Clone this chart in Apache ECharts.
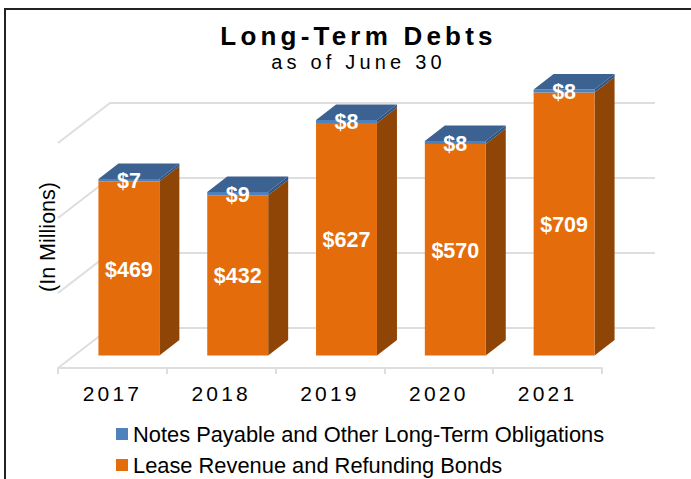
<!doctype html>
<html>
<head>
<meta charset="UTF-8">
<title>Long-Term Debts</title>
<style>
    html, body { margin: 0; padding: 0; background: #fff; }
    #main { width: 691px; height: 479px; }
    /* zrender has no letter spacing option, so the svg text gets it from here */
    #main text[style*="Arimo"] { letter-spacing: 4.2px; }
    #main text[style*="Arimo"][style*="21px"] { letter-spacing: 3.2px; }
</style>
<script src="https://cdn.jsdelivr.net/npm/echarts@6/dist/echarts.min.js"></script>
</head>
<body>
<div id="main"></div>
<script>
var years = ['2017', '2018', '2019', '2020', '2021'];
var bonds = [469, 432, 627, 570, 709];
var notes = [7, 9, 8, 8, 8];
var wallTicks = [0, 200, 400, 600];
var bondsName = 'Lease Revenue and Refunding Bonds';
var notesName = 'Notes Payable and Other Long-Term Obligations';

var plainFont = '"Liberation Sans", Arial, sans-serif';
var spacedFont = 'Arimo, "Liberation Sans", Arial, sans-serif';

var myChart = echarts.init(document.getElementById('main'), null, { renderer: 'svg' });

// back wall lines: diagonal from the front edge, then straight across
function renderWall(params, api) {
    var cs = params.coordSys;
    var y = api.coord([0, api.value(0)])[1];
    return {
        type: 'polyline',
        silent: true,
        shape: { points: [[cs.x, y], [cs.x + 52, y - 40], [cs.x + cs.width + 53, y - 40]] },
        style: { stroke: '#dedede', lineWidth: 2, fill: null }
    };
}

function renderBar(colors, withTop) {
    return function (params, api) {
        var cat = api.value(0);
        var low = api.coord([cat, api.value(1)]);
        var high = api.coord([cat, api.value(2)]);
        var w = api.size([1, 0])[0] * 0.56;
        var x = low[0] - w / 2;
        var dx = 20, dy = 15.5;
        var children = [
            {
                type: 'polygon',
                shape: { points: [[x + w, low[1]], [x + w + dx, low[1] - dy], [x + w + dx, high[1] - dy], [x + w, high[1]]] },
                style: { fill: colors.side }
            },
            {
                type: 'rect',
                shape: { x: x, y: high[1], width: w, height: low[1] - high[1] },
                style: { fill: colors.front }
            }
        ];
        if (withTop) {
            children.push({
                type: 'polygon',
                shape: { points: [[x, high[1]], [x + w, high[1]], [x + w + dx, high[1] - dy], [x + dx, high[1] - dy]] },
                style: { fill: colors.top }
            });
        }
        children.push({
            type: 'text',
            z2: 10,
            style: {
                x: low[0],
                y: (low[1] + high[1]) / 2 + 1,
                text: '$' + (api.value(2) - api.value(1)),
                fill: '#fff',
                font: 'bold 21.5px ' + plainFont,
                align: 'center',
                verticalAlign: 'middle'
            }
        });
        return { type: 'group', children: children };
    };
}

var option = {
    animation: false,
    backgroundColor: '#fff',
    title: {
        left: 353.5,
        top: 18,
        textAlign: 'center',
        text: 'Long-Term Debts',
        subtext: 'as of June 30',
        itemGap: 3,
        textStyle: { fontFamily: spacedFont, fontSize: 26, fontWeight: 'bold', color: '#000' },
        subtextStyle: { fontFamily: spacedFont, fontSize: 20, color: '#000' }
    },
    legend: {
        orient: 'vertical',
        left: 116,
        top: 423,
        padding: 0,
        icon: 'rect',
        itemWidth: 12,
        itemHeight: 12,
        itemGap: 9,
        selectedMode: false,
        data: [notesName, bondsName],
        textStyle: { fontFamily: plainFont, fontSize: 21.85, color: '#000' }
    },
    graphic: [
        {
            type: 'polyline',
            silent: true,
            shape: { points: [[5, 479], [5, 9], [691, 9]] },
            style: { stroke: '#222', lineWidth: 2, fill: null }
        },
        {
            type: 'text',
            x: 48,
            y: 237,
            rotation: Math.PI / 2,
            style: {
                text: '(In Millions)',
                font: '21.5px ' + plainFont,
                fill: '#000',
                align: 'center',
                verticalAlign: 'middle'
            }
        }
    ],
    // grid 0 is the front edge of the floor, grid 1 the plane of the bar fronts
    grid: [
        { left: 58, top: 68, width: 544, height: 300 },
        { left: 74.5, top: 58.7, width: 544, height: 296.8 }
    ],
    xAxis: [
        {
            type: 'category',
            gridIndex: 0,
            data: years,
            axisLine: { lineStyle: { color: '#dedede', width: 2 } },
            axisTick: { show: true, length: 6, lineStyle: { color: '#dedede', width: 2 } },
            axisLabel: { fontFamily: spacedFont, fontSize: 21, color: '#000', margin: 15 }
        },
        { type: 'category', gridIndex: 1, data: years, show: false }
    ],
    yAxis: [
        { type: 'value', gridIndex: 0, min: 0, max: 800, interval: 200, show: false },
        { type: 'value', gridIndex: 1, min: 0, max: 800, interval: 200, show: false }
    ],
    series: [
        {
            type: 'custom',
            xAxisIndex: 0,
            yAxisIndex: 0,
            renderItem: renderWall,
            encode: { y: 0 },
            data: wallTicks.map(function (v) { return [v]; }),
            z: 1
        },
        {
            type: 'custom',
            name: bondsName,
            xAxisIndex: 1,
            yAxisIndex: 1,
            itemStyle: { color: '#e46c0a' },
            renderItem: renderBar({ front: '#e46c0a', side: '#8f4505' }, false),
            encode: { x: 0, y: [1, 2] },
            data: bonds.map(function (v, i) { return [i, 0, v]; }),
            z: 2
        },
        {
            type: 'custom',
            name: notesName,
            xAxisIndex: 1,
            yAxisIndex: 1,
            itemStyle: { color: '#4f81bd' },
            renderItem: renderBar({ front: '#4f81bd', side: '#2f5680', top: '#3c6291' }, true),
            encode: { x: 0, y: [1, 2] },
            data: notes.map(function (v, i) { return [i, bonds[i], bonds[i] + v]; }),
            z: 3
        }
    ]
};
myChart.setOption(option);
</script>
</body>
</html>
